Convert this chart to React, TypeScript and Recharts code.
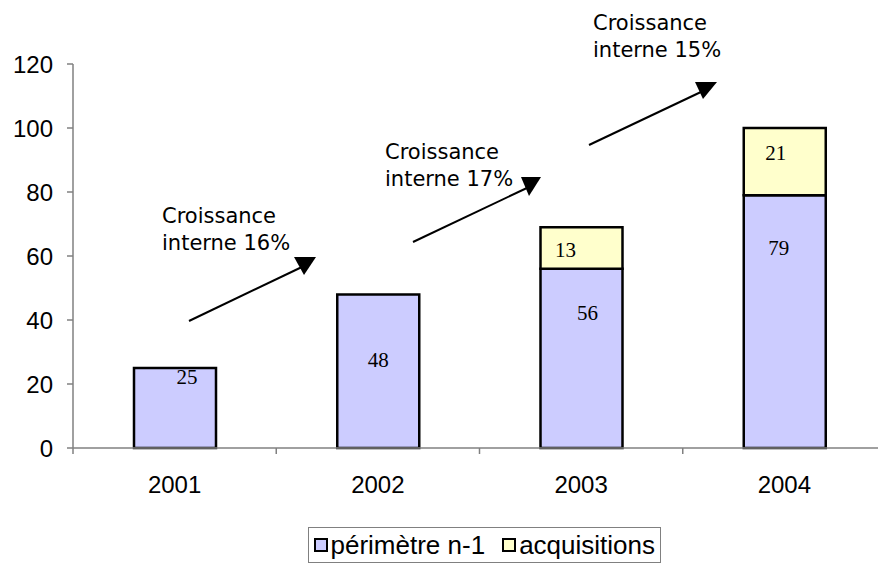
import { BarChart, Bar, XAxis, YAxis, LabelList } from "recharts";

const years = ["2001", "2002", "2003", "2004"];
const perimetre = [25, 48, 56, 79];
const acquisitions = [0, 0, 13, 21];
const yTicks = [0, 20, 40, 60, 80, 100, 120];
const seriesNames = ["périmètre n-1", "acquisitions"];
const growthNotes = ["Croissance interne 16%", "Croissance interne 17%", "Croissance interne 15%"];

const data = years.map((year, i) => ({
  year,
  perimetre: perimetre[i],
  acquisitions: acquisitions[i]
}));

const CHART_W = 890;
const CHART_H = 563;
const MARGIN = { top: 64, right: 4, bottom: 75, left: 0 };
const Y_AXIS_W = 73;
const PLOT_LEFT = MARGIN.left + Y_AXIS_W;
const BAND = (CHART_W - MARGIN.left - MARGIN.right - Y_AXIS_W) / years.length;

const colors = ["#ccccff", "#ffffcc"];
const sansFont = "'Liberation Sans', Arial, sans-serif";

// hand-tuned label nudges (dx from bar centre, dy from segment top), as in the original
const perimetreLabelPos = [[12, 9], [0, 66], [6, 44], [-6, 53]];
const acquisitionsLabelPos = [[0, 0], [0, 0], [-16, 23], [-9, 25]];

// arrows + notes drawn on top of the chart
const arrows = [
  { from: [189, 321], to: [304, 266], head: [[294, 257], [316, 257], [304, 275]], text: [162, 223] },
  { from: [413, 242], to: [529, 187], head: [[521, 177], [541, 177], [529, 196]], text: [385, 159] },
  { from: [589, 145], to: [703, 91], head: [[695, 82], [717, 82], [703, 99]], text: [593, 30] }
];

function makeLabel(pos: number[][]) {
  return (props: any) => {
    const { x, y, width, value } = props;
    if (!value) return null;
    const cx = x + width / 2;
    const idx = Math.round((cx - PLOT_LEFT - BAND / 2) / BAND);
    const [dx, dy] = pos[idx] || [0, 0];
    return (
      <text
        x={cx + dx}
        y={y + dy}
        textAnchor="middle"
        dominantBaseline="central"
        fontFamily="'Liberation Serif', 'Times New Roman', serif"
        fontSize={21}
        fill="#000"
      >
        {value}
      </text>
    );
  };
}

function YearTick(props: any) {
  const { x, y, payload } = props;
  const axisY = y - 6;
  const left = x - BAND / 2;
  return (
    <g>
      <line x1={left} y1={axisY} x2={left} y2={axisY + 6} stroke="#808080" strokeWidth={1.5} />
      <text x={x} y={axisY + 45} textAnchor="middle" fontFamily={sansFont} fontSize={24} fill="#000">
        {payload.value}
      </text>
    </g>
  );
}

export default function App() {
  return (
    <div
      style={{
        position: "absolute",
        left: 0,
        top: 0,
        width: 878,
        height: 563,
        overflow: "hidden",
        background: "#fff"
      }}
    >
      <BarChart width={CHART_W} height={CHART_H} data={data} margin={MARGIN} barCategoryGap={0}>
        <XAxis
          dataKey="year"
          height={40}
          axisLine={{ stroke: "#808080", strokeWidth: 1.5 }}
          tickLine={false}
          tickSize={6}
          tickMargin={0}
          interval={0}
          tick={<YearTick />}
        />
        <YAxis
          width={Y_AXIS_W}
          domain={[0, 120]}
          ticks={yTicks}
          interval={0}
          axisLine={{ stroke: "#808080", strokeWidth: 1.5 }}
          tickLine={{ stroke: "#808080", strokeWidth: 1.5 }}
          tickSize={6}
          tickMargin={14}
          tick={{ fill: "#000", fontSize: 24, fontFamily: sansFont }}
        />
        <Bar
          dataKey="perimetre"
          name={seriesNames[0]}
          stackId="a"
          fill={colors[0]}
          stroke="#000"
          strokeWidth={2.5}
          barSize={82}
          isAnimationActive={false}
        >
          <LabelList dataKey="perimetre" content={makeLabel(perimetreLabelPos)} />
        </Bar>
        <Bar
          dataKey="acquisitions"
          name={seriesNames[1]}
          stackId="a"
          fill={colors[1]}
          stroke="#000"
          strokeWidth={2.5}
          barSize={82}
          isAnimationActive={false}
        >
          <LabelList dataKey="acquisitions" content={makeLabel(acquisitionsLabelPos)} />
        </Bar>
      </BarChart>

      <svg
        width={878}
        height={563}
        style={{ position: "absolute", left: 0, top: 0, pointerEvents: "none" }}
      >
        {arrows.map((a, i) => {
          const [line1, ...rest] = growthNotes[i].split(" ");
          return (
            <g key={i}>
              <line x1={a.from[0]} y1={a.from[1]} x2={a.to[0]} y2={a.to[1]} stroke="#000" strokeWidth={2} />
              <polygon points={a.head.map((p) => p.join(",")).join(" ")} fill="#000" />
              <text x={a.text[0]} y={a.text[1]} fontFamily="'DejaVu Sans', Verdana, sans-serif" fontSize={21} fill="#000">
                <tspan x={a.text[0]}>{line1}</tspan>
                <tspan x={a.text[0]} dy={27}>{rest.join(" ")}</tspan>
              </text>
            </g>
          );
        })}
      </svg>

      <div
        style={{
          position: "absolute",
          right: 217,
          top: 527,
          height: 36,
          border: "1px solid #808080",
          boxSizing: "border-box",
          display: "flex",
          alignItems: "center",
          paddingLeft: 5,
          paddingRight: 5,
          fontFamily: sansFont,
          fontSize: 26,
          color: "#000",
          whiteSpace: "nowrap",
          background: "#fff"
        }}
      >
        {seriesNames.map((name, i) => (
          <span
            key={name}
            style={{ display: "flex", alignItems: "center", marginRight: i === 0 ? 17 : 0 }}
          >
            <span
              style={{
                display: "inline-block",
                width: 14,
                height: 14,
                background: colors[i],
                border: "2px solid #000",
                marginRight: 3,
                boxSizing: "border-box"
              }}
            />
            {name}
          </span>
        ))}
      </div>
    </div>
  );
}
